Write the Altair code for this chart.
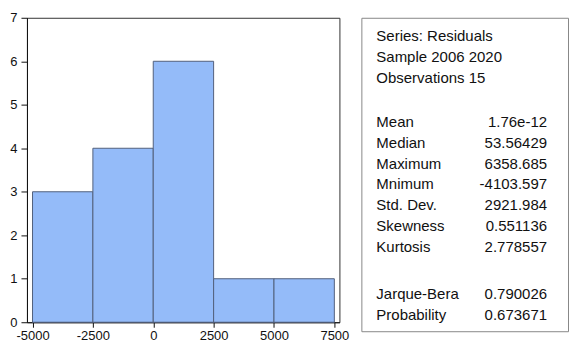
import altair as alt
import pandas as pd

# ---- histogram data ----
bin_start = [-5000, -2500, 0, 2500, 5000]
bin_end = [-2500, 0, 2500, 5000, 7500]
counts = [3, 4, 6, 1, 1]

x_ticks = [-5000, -2500, 0, 2500, 5000, 7500]
y_ticks = [0, 1, 2, 3, 4, 5, 6, 7]

# ---- statistics panel text ----
header_lines = ["Series: Residuals", "Sample 2006 2020", "Observations 15"]
stat_names = ["Mean", "Median", "Maximum", "Mnimum", "Std. Dev.", "Skewness", "Kurtosis"]
stat_values = ["1.76e-12", "53.56429", "6358.685", "-4103.597", "2921.984", "0.551136", "2.778557"]
test_names = ["Jarque-Bera", "Probability"]
test_values = ["0.790026", "0.673671"]

FONT = "Liberation Sans"
BOX_W = 207

hist_df = pd.DataFrame({"start": bin_start, "end": bin_end, "count": counts})

hist = alt.Chart(hist_df).mark_rect(
    fill="#94bbf9", stroke="#52607c", strokeWidth=1
).encode(
    x=alt.X("start:Q",
            scale=alt.Scale(domain=[-5230, 7710], nice=False, zero=False),
            axis=alt.Axis(values=x_ticks, labelExpr="'' + datum.value", grid=False,
                          title=None, tickSize=5, labelPadding=2)),
    x2="end:Q",
    y=alt.Y("count:Q",
            scale=alt.Scale(domain=[0, 7], nice=False),
            axis=alt.Axis(values=y_ticks, grid=False, title=None,
                          tickSize=6, labelPadding=4)),
    y2=alt.datum(0),
).properties(width=313, height=305,
             view=alt.ViewBackground(stroke="#333333", strokeWidth=1))

# build stats rows (row centres measured from the top of the box)
rows = []
for i, t in enumerate(header_lines):
    rows.append({"label": t, "value": "", "ypos": 18 + 21 * i})
for j, (n, v) in enumerate(zip(stat_names, stat_values)):
    rows.append({"label": n, "value": v, "ypos": 104 + 21 * j})
for k, (n, v) in enumerate(zip(test_names, test_values)):
    rows.append({"label": n, "value": v, "ypos": 277 + 21 * k})
stats_df = pd.DataFrame(rows)

ypos = alt.Y("ypos:Q", scale=alt.Scale(domain=[0, 314], reverse=True, nice=False), axis=None)

labels = alt.Chart(stats_df).mark_text(
    align="left", baseline="middle", font=FONT, fontSize=15, color="#111111"
).encode(x=alt.value(15), y=ypos, text="label:N")

values = alt.Chart(stats_df).mark_text(
    align="right", baseline="middle", font=FONT, fontSize=15, color="#111111"
).encode(x=alt.value(BOX_W - 21), y=ypos, text="value:N")

stats = alt.layer(labels, values).properties(
    width=BOX_W, height=314,
    view=alt.ViewBackground(stroke="#888888", strokeWidth=1))

chart = alt.hconcat(hist, stats, spacing=22, bounds="flush").properties(
    padding={"left": 1, "top": 2.5, "right": 0, "bottom": -2}
).configure_axis(
    labelFont=FONT, labelFontSize=13, labelColor="#111111",
    domainColor="#111111", tickColor="#111111", domainWidth=1, tickWidth=1
).configure_view(stroke="#333333")

chart.save("out.html", embed_options={"renderer": "svg", "actions": False})
